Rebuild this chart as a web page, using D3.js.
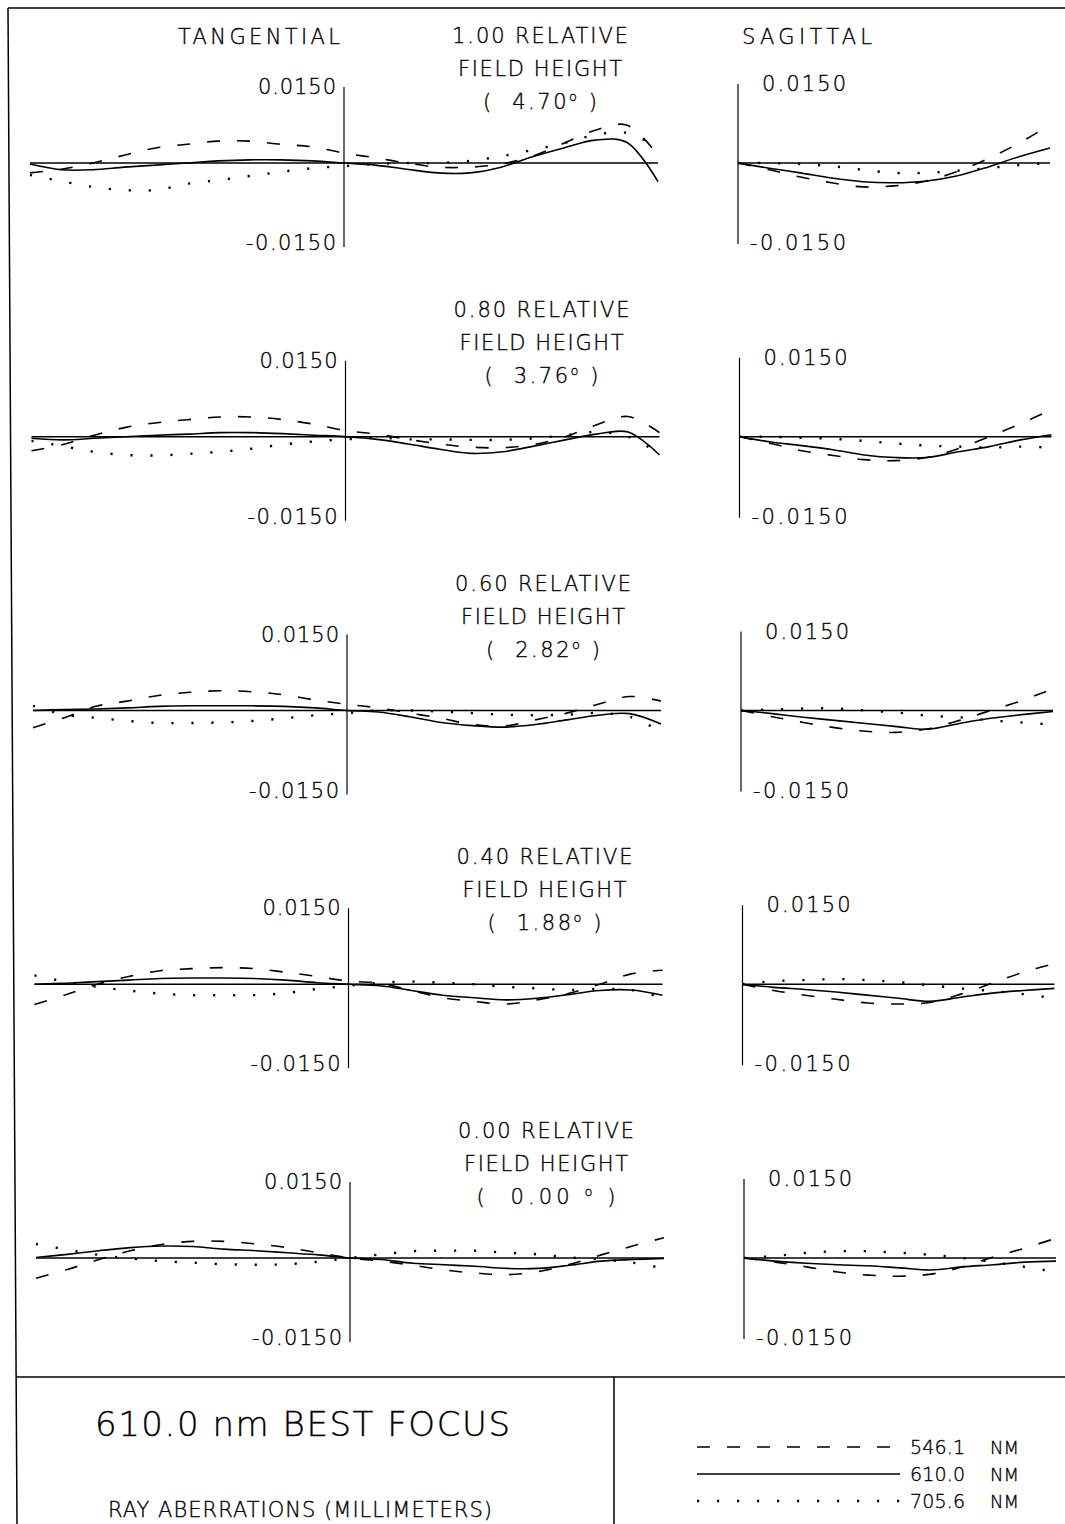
<!DOCTYPE html>
<html>
<head>
<meta charset="utf-8">
<script src="https://cdn.jsdelivr.net/npm/d3@7"></script>
<style>
  html, body { margin: 0; padding: 0; background: #fff; }
  svg text { font-family: "DejaVu Sans", "Liberation Sans", sans-serif; font-weight: 200; fill: #000; stroke: #000; stroke-width: 0.35; }
</style>
</head>
<body>
<svg id="chart" width="1065" height="1524"></svg>
<script>
// ---- labels ----
const wavelengths = ["546.1", "610.0", "705.6"];
const fieldLabels = ["1.00", "0.80", "0.60", "0.40", "0.00"];
const fieldAngles = ["4.70", "3.76", "2.82", "1.88", "0.00"];
const tickLabels = ["0.0150", "-0.0150"];
const yLimit = 0.015;

// ---- normalized pupil coordinates ----
const tanPupil = [-1.0, -0.9, -0.8, -0.7, -0.6, -0.5, -0.4, -0.3, -0.2, -0.1, 0.0,
                  0.1, 0.2, 0.3, 0.4, 0.5, 0.6, 0.7, 0.8, 0.9, 1.0];
const sagPupil = [0.0, 0.1, 0.2, 0.3, 0.4, 0.5, 0.6, 0.7, 0.8, 0.9, 1.0];

// ---- tangential ray aberrations (mm), one row per field ----
const tan546 = [
  [-0.0019, -0.0012, 0, 0.0015, 0.0029, 0.0036, 0.0042, 0.0042, 0.0036, 0.0031, 0.0019, 0.0010, 0, -0.0008, -0.0008, -0.0002, 0.0013, 0.0038, 0.0063, 0.0073, 0.0015],
  [-0.0027, -0.0015, 0.0003, 0.0018, 0.0027, 0.0033, 0.0038, 0.0038, 0.0033, 0.0024, 0.0012, 0.0005, -0.0005, -0.0014, -0.0020, -0.0021, -0.0015, 0, 0.0023, 0.0039, 0.0008],
  [-0.0033, -0.0014, 0.0008, 0.0018, 0.0029, 0.0035, 0.0038, 0.0036, 0.0030, 0.0020, 0.0012, 0.0005, -0.0005, -0.0015, -0.0027, -0.0030, -0.0018, -0.0005, 0.0012, 0.0027, 0.0018],
  [-0.0039, -0.0020, 0, 0.0015, 0.0026, 0.0030, 0.0032, 0.0030, 0.0023, 0.0015, 0.0006, 0.0002, -0.0012, -0.0026, -0.0033, -0.0038, -0.0030, -0.0018, 0, 0.0020, 0.0027],
  [-0.0039, -0.0022, -0.0003, 0.0014, 0.0026, 0.0032, 0.0032, 0.0027, 0.0020, 0.0010, 0, -0.0006, -0.0014, -0.0023, -0.0029, -0.0032, -0.0026, -0.0012, 0.0006, 0.0023, 0.0039]
];
const tan610 = [
  [-0.0002, -0.0013, -0.0013, -0.0008, -0.0004, 0, 0.0004, 0.0006, 0.0006, 0.0004, 0, -0.0004, -0.0012, -0.0019, -0.0019, -0.0008, 0.0012, 0.0029, 0.0044, 0.0040, -0.0036],
  [-0.0003, -0.0006, -0.0003, 0, 0.0003, 0.0005, 0.0008, 0.0008, 0.0006, 0.0003, 0, -0.0005, -0.0014, -0.0024, -0.0032, -0.0029, -0.0018, -0.0006, 0.0005, 0.0009, -0.0035],
  [0, 0.0002, 0.0003, 0.0005, 0.0008, 0.0009, 0.0009, 0.0009, 0.0008, 0.0005, 0, -0.0003, -0.0012, -0.0023, -0.0029, -0.0032, -0.0027, -0.0018, -0.0009, -0.0006, -0.0026],
  [0, 0.0002, 0.0005, 0.0008, 0.0011, 0.0012, 0.0012, 0.0011, 0.0008, 0.0003, 0, -0.0003, -0.0012, -0.0021, -0.0026, -0.0030, -0.0027, -0.0020, -0.0012, -0.0011, -0.0021],
  [0.0001, 0.0007, 0.0014, 0.0020, 0.0023, 0.0022, 0.0017, 0.0014, 0.0010, 0.0006, 0, -0.0003, -0.0010, -0.0013, -0.0016, -0.0020, -0.0020, -0.0014, -0.0006, -0.0003, -0.0001]
];
const tan705 = [
  [-0.0023, -0.0035, -0.0046, -0.0052, -0.0052, -0.0040, -0.0033, -0.0025, -0.0017, -0.0010, -0.0006, -0.0002, 0, 0, 0.0004, 0.0013, 0.0025, 0.0038, 0.0054, 0.0058, 0.0029],
  [-0.0008, -0.0018, -0.0029, -0.0035, -0.0036, -0.0033, -0.0029, -0.0023, -0.0015, -0.0009, -0.0005, -0.0002, -0.0005, -0.0005, -0.0006, -0.0006, -0.0003, 0.0003, 0.0009, 0, -0.0033],
  [0.0009, -0.0008, -0.0014, -0.0020, -0.0024, -0.0024, -0.0023, -0.0020, -0.0015, -0.0009, -0.0005, 0, 0, -0.0002, -0.0005, -0.0008, -0.0009, -0.0008, -0.0005, -0.0012, -0.0041],
  [0.0017, 0.0005, -0.0005, -0.0012, -0.0018, -0.0021, -0.0021, -0.0021, -0.0017, -0.0009, -0.0003, 0.0003, 0.0005, 0.0003, 0, -0.0005, -0.0008, -0.0011, -0.0009, -0.0011, -0.0026],
  [0.0027, 0.0016, 0.0006, -0.0001, -0.0006, -0.0009, -0.0012, -0.0013, -0.0012, -0.0007, 0, 0.0007, 0.0013, 0.0014, 0.0014, 0.0010, 0.0007, 0.0001, -0.0003, -0.0009, -0.0020]
];

// ---- sagittal ray aberrations (mm), one row per field ----
const sag546 = [
  [0, -0.0013, -0.0027, -0.0038, -0.0046, -0.0044, -0.0035, -0.0017, 0.0008, 0.0038, 0.0073],
  [0, -0.0013, -0.0027, -0.0036, -0.0044, -0.0046, -0.0040, -0.0023, 0, 0.0025, 0.0052],
  [0, -0.0012, -0.0023, -0.0033, -0.0040, -0.0042, -0.0035, -0.0019, 0, 0.0019, 0.0042],
  [0, -0.0012, -0.0021, -0.0029, -0.0036, -0.0038, -0.0035, -0.0019, 0.0002, 0.0023, 0.0040],
  [0, -0.0008, -0.0017, -0.0027, -0.0033, -0.0035, -0.0031, -0.0017, 0.0002, 0.0019, 0.0038]
];
const sag610 = [
  [0, -0.0010, -0.0019, -0.0029, -0.0036, -0.0038, -0.0035, -0.0025, -0.0008, 0.0012, 0.0029],
  [0, -0.0010, -0.0017, -0.0025, -0.0035, -0.0040, -0.0040, -0.0029, -0.0019, -0.0006, 0.0004],
  [0, -0.0006, -0.0013, -0.0019, -0.0025, -0.0031, -0.0036, -0.0025, -0.0015, -0.0008, -0.0002],
  [0, -0.0006, -0.0010, -0.0015, -0.0021, -0.0027, -0.0033, -0.0025, -0.0017, -0.0012, -0.0008],
  [0, -0.0006, -0.0010, -0.0013, -0.0015, -0.0019, -0.0023, -0.0017, -0.0013, -0.0008, -0.0006]
];
const sag705 = [
  [0, 0, -0.0002, -0.0006, -0.0013, -0.0019, -0.0019, -0.0015, -0.0010, -0.0004, 0],
  [0, 0, -0.0002, -0.0004, -0.0008, -0.0013, -0.0017, -0.0019, -0.0021, -0.0019, -0.0021],
  [0, 0.0002, 0.0004, 0.0004, 0, -0.0004, -0.0010, -0.0013, -0.0019, -0.0023, -0.0027],
  [0, 0.0006, 0.0008, 0.0010, 0.0008, 0.0004, -0.0002, -0.0008, -0.0013, -0.0019, -0.0027],
  [0, 0.0004, 0.0010, 0.0013, 0.0013, 0.0010, 0.0006, 0, -0.0008, -0.0017, -0.0027]
];

// ---- drawing ----
const svg = d3.select("#chart");
const ink = "#000";
const dashFor = { "546.1": "13,17", "610.0": null, "705.6": "2.2,17.8" };
const widthFor = { "546.1": 1.6, "610.0": 1.6, "705.6": 2.4 };
const tanSeries = [tan546, tan610, tan705];
const sagSeries = [sag546, sag610, sag705];

// outer frame (the sheet sits slightly askew, so the left edge leans)
const frame = svg.append("g").attr("stroke", ink).attr("stroke-width", 1.5).attr("fill", "none");
frame.append("line").attr("x1", 8).attr("y1", 8).attr("x2", 1065).attr("y2", 8);
frame.append("line").attr("x1", 8).attr("y1", 8).attr("x2", 17).attr("y2", 1524);
frame.append("line").attr("x1", 16).attr("y1", 1377).attr("x2", 1065).attr("y2", 1377);
frame.append("line").attr("x1", 614).attr("y1", 1377).attr("x2", 614).attr("y2", 1524);

function label(g, txt, x, y, size, anchor, len) {
  const t = g.append("text").attr("x", x).attr("y", y)
    .attr("font-size", size).attr("text-anchor", anchor || "start").text(txt);
  if (len) t.attr("textLength", len).attr("lengthAdjust", "spacing");
  return t;
}

// column headings
label(svg, "TANGENTIAL", 178, 44, 21, "start", 162);
label(svg, "SAGITTAL", 742, 44, 21, "start", 130);

const ROW_STEP = 273.75;
const HALF = 78;

fieldLabels.forEach((fl, r) => {
  const dx = r * 1.5;
  const zeroY = 163 + r * ROW_STEP;
  const g = svg.append("g");

  const y = d3.scaleLinear().domain([-yLimit, yLimit]).range([zeroY + HALF, zeroY - HALF]);
  const xt = d3.scaleLinear().domain([-1, 1]).range([30 + dx, 658 + dx]);
  const xs = d3.scaleLinear().domain([0, 1]).range([738 + dx, 1050 + dx]);

  // field heading
  const cx = 540 + dx;
  const top = 43 + r * ROW_STEP;
  label(g, fl + " RELATIVE", cx, top, 21, "middle", 176);
  label(g, "FIELD HEIGHT", cx, top + 33, 21, "middle", 164);
  const ang = g.append("text").attr("x", cx).attr("y", top + 66)
    .attr("font-size", 21).attr("text-anchor", "middle").attr("xml:space", "preserve")
    .attr("textLength", r === 4 ? 139 : 114).attr("lengthAdjust", "spacing");
  ang.append("tspan").text("(  " + fieldAngles[r] + (r === 4 ? " " : ""));
  ang.append("tspan").attr("font-size", 13).attr("dy", -8).text("o");
  ang.append("tspan").attr("dy", 8).text(" )");

  // tangential axes
  const tAxis = d3.axisLeft(y).tickValues([]).tickSizeOuter(0);
  g.append("g").attr("transform", `translate(${xt(0)},0)`).call(tAxis)
    .call(s => s.select(".domain").attr("stroke", ink).attr("stroke-width", 1.2)
      .attr("d", `M0,${y(yLimit) + 2}V${y(-yLimit) + 6}`));
  g.append("line").attr("x1", xt(-1)).attr("x2", xt(1)).attr("y1", y(0)).attr("y2", y(0))
    .attr("stroke", ink).attr("stroke-width", 1.3);
  label(g, tickLabels[0], xt(0) - 8, y(yLimit) + 9, 21, "end", 78);
  label(g, tickLabels[1], xt(0) - 8, y(-yLimit) + 9, 21, "end", 90);

  // sagittal axes
  const sAxis = d3.axisLeft(y).tickValues([]).tickSizeOuter(0);
  g.append("g").attr("transform", `translate(${xs(0)},0)`).call(sAxis)
    .call(s => s.select(".domain").attr("stroke", ink).attr("stroke-width", 1.2)
      .attr("d", `M0,${y(yLimit) - 1}V${y(-yLimit) + 3}`));
  g.append("line").attr("x1", xs(0)).attr("x2", xs(1)).attr("y1", y(0)).attr("y2", y(0))
    .attr("stroke", ink).attr("stroke-width", 1.3);
  label(g, tickLabels[0], xs(0) + 24, y(yLimit) + 6, 21, "start", 84);
  label(g, tickLabels[1], xs(0) + 12, y(-yLimit) + 9, 21, "start", 96);

  // ray-fan curves, one per wavelength
  const lineT = d3.line().x((d, i) => xt(tanPupil[i])).y(d => y(d)).curve(d3.curveCatmullRom.alpha(0.5));
  const lineS = d3.line().x((d, i) => xs(sagPupil[i])).y(d => y(d)).curve(d3.curveCatmullRom.alpha(0.5));
  wavelengths.forEach((w, k) => {
    g.append("path").attr("d", lineT(tanSeries[k][r])).attr("fill", "none")
      .attr("stroke", ink).attr("stroke-width", widthFor[w])
      .attr("stroke-dasharray", dashFor[w]);
    g.append("path").attr("d", lineS(sagSeries[k][r])).attr("fill", "none")
      .attr("stroke", ink).attr("stroke-width", widthFor[w])
      .attr("stroke-dasharray", dashFor[w]);
  });
});

// ---- footer ----
label(svg, "610.0 nm BEST FOCUS", 95, 1436, 34, "start", 415);
label(svg, "RAY ABERRATIONS (MILLIMETERS)", 108, 1517, 21, "start", 384);

const legendY = [1447, 1474, 1501];
wavelengths.forEach((w, k) => {
  svg.append("line").attr("x1", 697).attr("x2", 900).attr("y1", legendY[k]).attr("y2", legendY[k])
    .attr("stroke", ink).attr("stroke-width", widthFor[w])
    .attr("stroke-dasharray", dashFor[w]);
  label(svg, w, 910, legendY[k] + 7, 19, "start", 55);
  label(svg, "NM", 990, legendY[k] + 7, 18);
});
</script>
</body>
</html>
